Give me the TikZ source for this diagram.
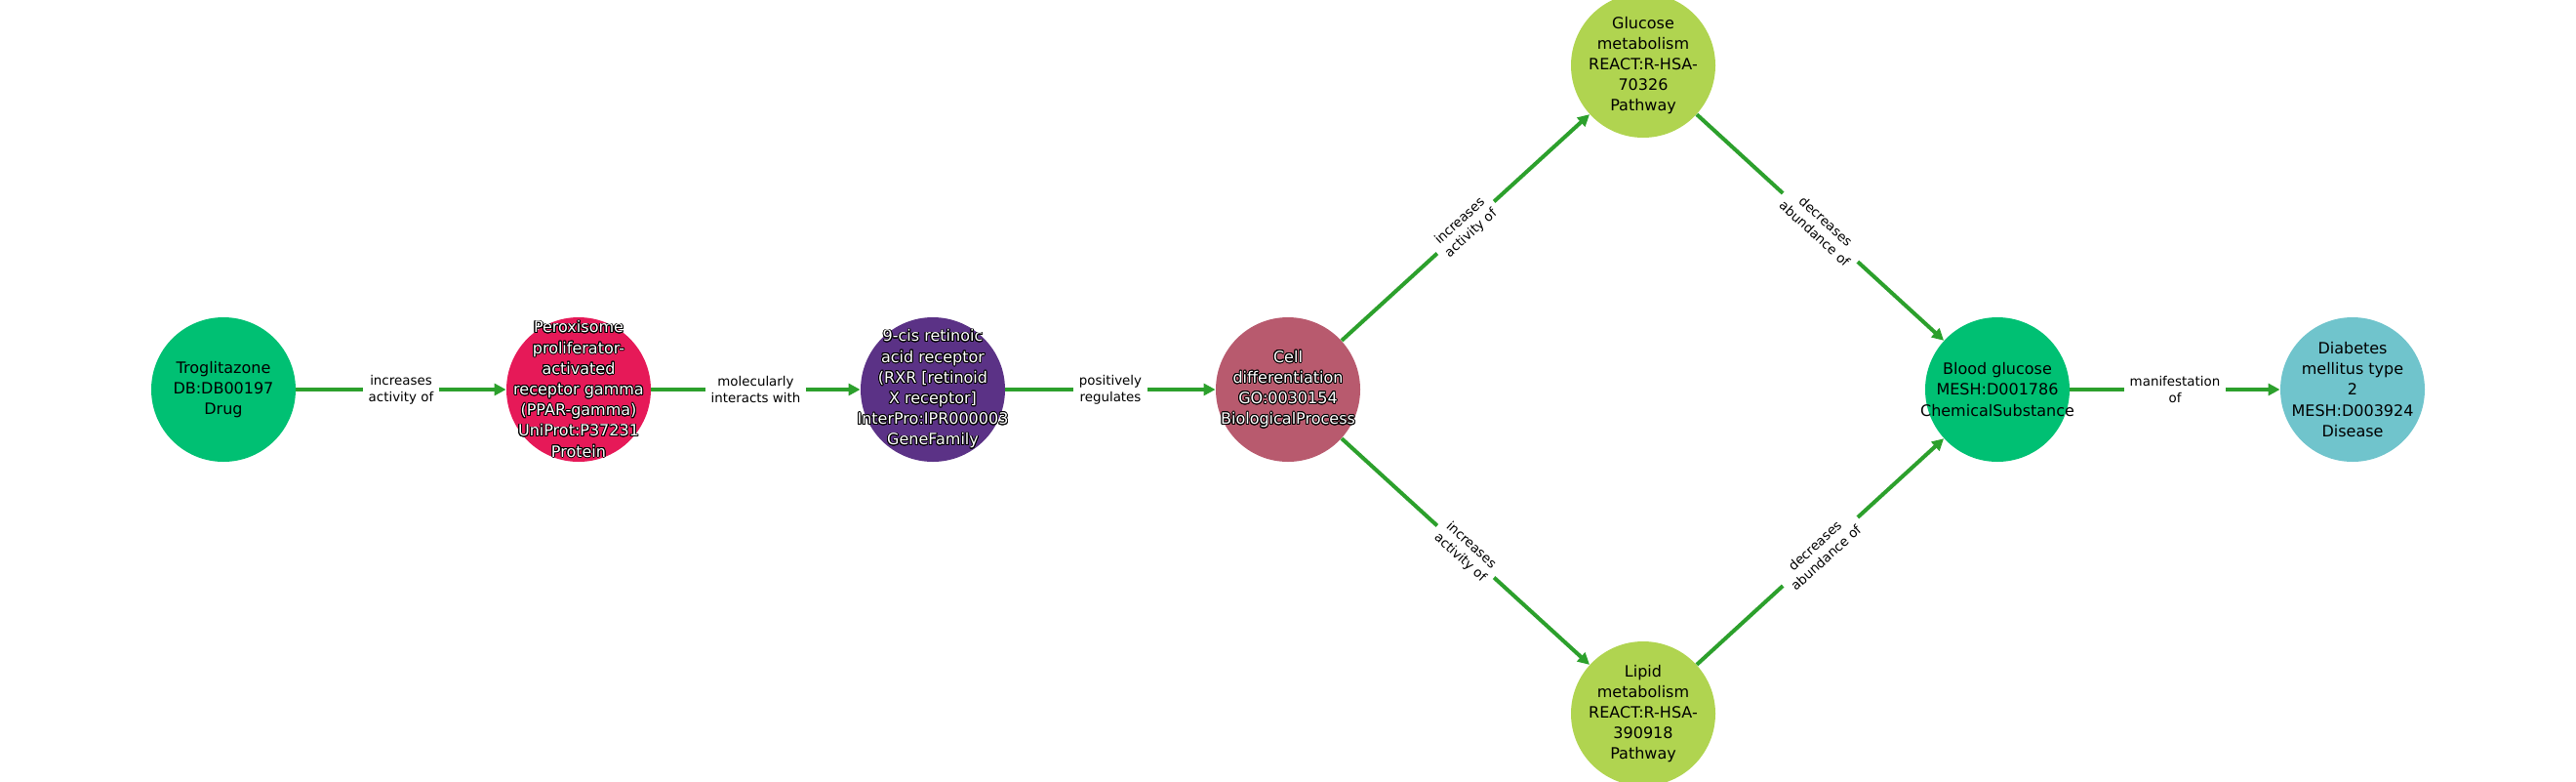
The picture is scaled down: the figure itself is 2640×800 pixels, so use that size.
\documentclass[tikz,border=0pt]{standalone}
\usepackage{fontspec}
\setmainfont{DejaVu Sans}
\usepackage{contour}
\contourlength{0.45pt}
\usetikzlibrary{arrows.meta}
\definecolor{cdrug}{RGB}{0,192,115}
\definecolor{cprot}{RGB}{230,25,88}
\definecolor{cfam}{RGB}{91,50,134}
\definecolor{cbio}{RGB}{184,90,110}
\definecolor{cpath}{RGB}{176,212,80}
\definecolor{cdis}{RGB}{112,196,204}
\definecolor{edgegreen}{RGB}{44,160,44}
\newcommand{\wl}[1]{\contour{black}{#1}}
\tikzset{
  ent/.style={circle, minimum size=74pt, inner sep=0pt, draw=none},
  ntext/.style={align=center, font=\fontsize{8}{10.6}\selectfont, text=black, inner sep=0pt},
  wtext/.style={ntext, text=white},
  rel/.style={-{Triangle[length=6pt,width=6pt]}, line width=2pt, draw=edgegreen},
  elab/.style={fill=white, inner xsep=3pt, inner ysep=1.5pt, align=center,
    font=\fontsize{6.7}{8.4}\selectfont, text=black, sloped, pos=0.5}
}
\begin{document}
\begin{tikzpicture}[x=0.5pt,y=-0.5pt]
\useasboundingbox (0,0) rectangle (2640,800);
% nodes
\node[ent, fill=cdrug] (trog) at (229,399) {};
\node[ntext] (trogt) at (trog) {Troglitazone\\DB:DB00197\\Drug};
\node[ent, fill=cprot] (ppar) at (593,399) {};
\node[wtext] (ppart) at (ppar) {\wl{Peroxisome}\\\wl{proliferator-}\\\wl{activated}\\\wl{receptor gamma}\\\wl{(PPAR-gamma)}\\\wl{UniProt:P37231}\\\wl{Protein}};
\node[ent, fill=cfam] (rxr) at (956,399) {};
\node[wtext] (rxrt) at (rxr) {\wl{9-cis retinoic}\\\wl{acid receptor}\\\wl{(RXR [retinoid}\\\wl{X receptor]}\\\wl{InterPro:IPR000003}\\\wl{GeneFamily}};
\node[ent, fill=cbio] (cell) at (1320,399) {};
\node[wtext] (cellt) at (cell) {\wl{Cell}\\\wl{differentiation}\\\wl{GO:0030154}\\\wl{BiologicalProcess}};
\node[ent, fill=cpath] (gluc) at (1684,67) {};
\node[ntext] (denglu) at (gluc) {Glucose\\metabolism\\REACT:R-HSA-\\70326\\Pathway};
\node[ent, fill=cpath] (lip) at (1684,731) {};
\node[ntext] (lipt) at (lip) {Lipid\\metabolism\\REACT:R-HSA-\\390918\\Pathway};
\node[ent, fill=cdrug] (blood) at (2047,399) {};
\node[ntext] (bloodt) at (blood) {Blood glucose\\MESH:D001786\\ChemicalSubstance};
\node[ent, fill=cdis] (diab) at (2411,399) {};
\node[ntext] (diabt) at (diab) {Diabetes\\mellitus type\\2\\MESH:D003924\\Disease};
% edges
\draw[rel] (trog) -- node[elab] {increases\\activity of} (ppar);
\draw[rel] (ppar) -- node[elab] {molecularly\\interacts with} (rxr);
\draw[rel] (rxr) -- node[elab] {positively\\regulates} (cell);
\draw[rel] (cell) -- node[elab] {increases\\activity of} (gluc);
\draw[rel] (cell) -- node[elab] {increases\\activity of} (lip);
\draw[rel] (gluc) -- node[elab] {decreases\\abundance of} (blood);
\draw[rel] (lip) -- node[elab] {decreases\\abundance of} (blood);
\draw[rel] (blood) -- node[elab] {manifestation\\of} (diab);
\end{tikzpicture}
\end{document}
